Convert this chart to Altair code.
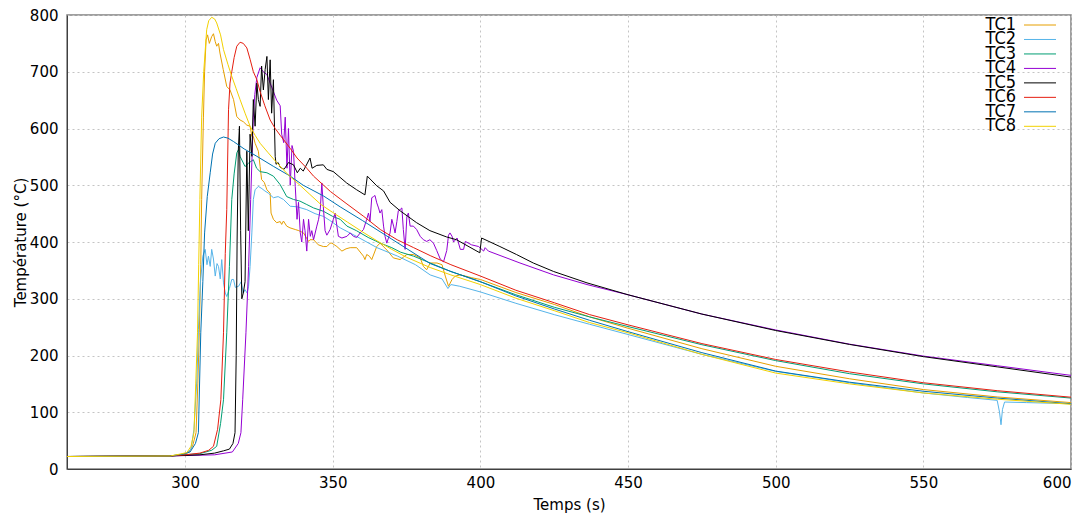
import altair as alt
import pandas as pd

# ---------------- data ----------------
names = ["TC1", "TC2", "TC3", "TC4", "TC5", "TC6", "TC7", "TC8"]
colors = ["#E69F00", "#56B4E9", "#009E73", "#9400D3", "#000000", "#E51E10", "#0072B2", "#F2D100"]

x_ticks = [300, 350, 400, 450, 500, 550, 600]
y_ticks = [0, 100, 200, 300, 400, 500, 600, 700, 800]

TC1 = [(260,22),(295,23),(298,25),(300,27),(301.2,29),(302.5,40),(303.7,64),(304.3,150),(304.8,240),(305.3,360),(305.6,475),(306.2,620),(306.6,700),(307.1,756),(307.6,765),(308.2,750),(309.0,762),(309.6,767),(310.2,753),(310.7,745),(311.3,750),(311.8,733),(312.9,704),(314.1,674),(315.2,668),(316.4,651),(317.5,621),(318.6,615),(319.7,612),(320.9,606),(322.0,604),(322.6,586),(323.1,586),(323.7,574),(324.8,560),(325.4,533),(325.9,510),(326.8,505),(327.7,492),(328.8,486),(329.1,451),(329.9,440),(331.0,434),(332.2,436),(332.7,431),(333.3,437),(334.4,428),(335.5,425),(337.3,422),(338.5,420),(340.1,416),(341.8,401),(342.3,404),(343.5,404),(345.1,395),(346.8,392),(348.0,392),(349.1,398),(349.7,398),(351.4,392),(353.1,384),(354.5,388),(355.9,390),(358.1,390),(360.4,375),(360.9,369),(361.5,378),(362.4,375),(363.2,369),(364.9,392),(366.0,398),(368.3,386),(370.5,372),(372.8,369),(375.1,378),(377.3,378),(379.6,372),(380.7,357),(381.8,351),(383.0,363),(385.3,363),(387.0,360),(388.1,340),(389.2,322),(390.4,334),(391.5,340),(393.2,342),(394.9,340),(397.1,337),(400,334),(412,311),(425,290),(437,268),(450,248),(475,212),(500,181),(525,159),(550,140),(575,127),(600,117)]

TC2 = [(260,22),(295,23),(300,25),(302,35),(303,70),(304,160),(304.5,246),(305.2,330),(306,375),(306.8,387),(307.4,360),(307.9,375),(308.5,357),(309,387),(309.6,370),(310.2,340),(310.8,362),(311.3,357),(311.9,335),(312.4,369),(313,328),(313.6,310),(314.1,304),(315,318),(315.8,334),(316.4,334),(317,320),(318.1,322),(319,330),(319.7,310),(320.3,316),(321,310),(321.5,322),(322,357),(322.6,416),(323.1,475),(323.7,492),(324.8,498),(326,494),(327,490),(328.2,486),(329.9,478),(331.5,480),(333.3,475),(335.6,463),(338,462),(341.2,457),(344,450),(346.9,445),(349,438),(352.5,425),(358,410),(365,390),(372,375),(378,360),(383,342),(387,335),(389,318),(390,325),(393,322),(400,312),(412,292),(425,272),(437,255),(450,237),(475,202),(500,172),(525,152),(550,134),(565,126),(575,121),(575.8,100),(576.3,78),(576.8,105),(577.5,118),(585,117),(600,115)]

TC3 = [(260,22),(295,23),(305,27),(309,33),(310.7,40),(312,80),(313,122),(314.1,240),(315,357),(315.8,475),(316.6,520),(317.5,557),(318.1,563),(318.6,551),(320.3,533),(321.5,539),(323.1,545),(324.2,530),(325.4,524),(327.7,522),(329.9,516),(332.2,501),(334.4,480),(336.7,475),(338.9,472),(341.2,466),(343.5,460),(346.9,454),(350,445),(352.5,440),(354.8,428),(358,420),(362,408),(366.1,398),(370,390),(373,382),(377.4,375),(383,363),(390,348),(400,330),(412,307),(425,285),(437,268),(450,251),(475,219),(500,191),(525,168),(550,150),(575,136),(600,125)]

TC4 = [(260,22),(295,23),(310,25),(316,30),(318,45),(318.9,64),(319.5,122),(320.6,240),(321.5,357),(322.2,475),(322.6,540),(323.1,620),(323.6,660),(324.3,690),(325.4,707),(326.5,700),(327.7,695),(328.8,680),(329.9,665),(331,650),(332.2,640),(332.7,590),(333.4,575),(333.9,620),(334.5,530),(335,600),(335.6,500),(336.2,570),(336.7,560),(337.3,498),(337.9,440),(338.4,470),(339,416),(339.5,400),(340.1,440),(340.6,420),(341.2,384),(341.8,440),(342.4,410),(342.9,420),(343.5,404),(344.6,428),(345.2,440),(345.8,460),(346.3,504),(346.8,462),(347.4,420),(348,412),(349.1,422),(350.2,440),(350.8,451),(351.4,428),(351.9,410),(353.1,407),(354.8,410),(355.9,416),(357,410),(358.1,408),(359.3,416),(360.4,422),(361.5,440),(362.1,451),(362.6,436),(363.2,478),(363.8,480),(364.3,482),(364.9,469),(365.5,460),(366,451),(366.6,457),(367.2,428),(367.7,410),(368.3,398),(369.4,416),(370,440),(370.6,428),(371.1,416),(371.7,436),(372.2,455),(372.8,457),(373.4,460),(373.9,422),(374.5,387),(375.1,445),(375.6,451),(376.2,428),(377.3,428),(378.4,422),(379.6,410),(380.7,404),(381.8,401),(382.9,404),(384.1,398),(385.2,385),(386.4,370),(387.5,365),(388.6,385),(389.2,412),(389.7,416),(390.4,410),(390.9,400),(392.1,407),(393.2,387),(394.3,387),(394.9,401),(397,395),(399.4,392),(401.1,384),(401.6,390),(402.7,384),(413.4,363),(424.8,342),(436.1,325),(450,307),(475,273),(500,245),(525,220),(550,199),(575,182),(600,165)]

TC5 = [(260,22),(295,23),(305,25),(310,28),(313,32),(315,35),(316.2,45),(316.9,64),(317.3,200),(317.6,400),(318,560),(318.4,604),(318.8,420),(319.2,300),(319.7,310),(320.3,330),(320.9,560),(321.4,420),(322,590),(322.6,551),(323.1,651),(323.7,604),(324.3,680),(324.8,651),(325.4,639),(325.9,710),(326.5,668),(327.1,704),(327.7,727),(328.2,651),(328.8,721),(329.3,627),(329.9,686),(330.5,551),(330.8,537),(331.5,540),(332.2,532),(333.5,528),(335,540),(336.7,536),(338,522),(339,530),(340,525),(342.3,548),(343,530),(344.6,535),(346.8,536),(348,528),(350.2,524),(354.7,504),(358.1,492),(360.9,483),(361.7,516),(364.9,499),(367.2,490),(369.4,470),(372.8,455),(378.4,434),(382.9,420),(388.5,409),(391.9,404),(399.8,381),(400.4,407),(406.6,392),(412.2,378),(417.9,363),(424.8,348),(436.1,328),(450,307),(475,273),(500,244),(525,219.5),(550,198),(575,180),(600,162)]

TC6 = [(260,22),(295,23),(300,25),(305,28),(308,33),(309.6,40),(311,70),(312.1,122),(313,240),(313.6,380),(314.1,457),(314.7,633),(315.2,680),(315.8,700),(316.6,725),(317.5,745),(318.6,752),(319.7,750),(320.9,742),(322,722),(323.1,700),(324.3,686),(325.4,665),(327,640),(328.8,615),(330.5,600),(332.2,588),(335.6,565),(337.9,548),(341.2,530),(343.5,516),(346.9,500),(349.2,489),(352.5,476),(354.8,467),(360.5,445),(366.1,422),(371.8,404),(377.4,390),(383,376),(390,360),(400,340),(412,315),(425,293),(437,272),(450,254),(475,221),(500,193),(525,171),(550,152),(575,138),(600,126.5)]

TC7 = [(260,22),(295,23),(299,26),(301.7,30),(303.5,45),(304.5,64),(305.3,240),(306,330),(306.6,416),(307.5,480),(308.5,522),(309.3,555),(310.2,574),(311.5,582),(313,585),(314.5,583),(316.4,577),(320,564),(324.3,551),(330,533),(335.6,516),(340,500),(346.9,481),(352.5,462),(360,438),(370,405),(383,362),(390,348),(400,330),(412,305),(425,282),(437,262),(450,242),(475,205),(500,172.5),(525,153),(550,137),(575,125),(600,115)]

TC8 = [(260,22),(295,23),(298,26),(300.6,29),(302,40),(303,64),(303.6,150),(304.2,240),(304.6,360),(305,475),(305.6,620),(306.3,700),(307.3,774),(308,790),(309,796),(310,793),(310.7,786),(312,765),(313,739),(314.5,713),(315.8,692),(317.3,670),(318.6,651),(320.3,627),(322,604),(323.7,588),(325.4,574),(328,558),(331,540),(335,518),(338.9,500),(342,485),(346,466),(350,452),(355,435),(360,418),(365,402),(370,387),(375,373),(383,355),(390,342),(400,325),(412,301),(425,279),(437,258),(450,240),(475,202),(500,169),(525,150),(550,134),(575,123),(600,114)]

series = [TC1, TC2, TC3, TC4, TC5, TC6, TC7, TC8]

rows = []
for name, pts in zip(names, series):
    for i, (t, v) in enumerate(pts):
        rows.append({"series": name, "i": i, "t": t, "T": v})
df = pd.DataFrame(rows)
legend_df = pd.DataFrame({"series": names})

FONT = "DejaVu Sans"
color_scale = alt.Scale(domain=names, range=colors)

lines = alt.Chart(df).mark_line(strokeWidth=1, clip=True).encode(
    x=alt.X("t:Q",
            scale=alt.Scale(domain=[260, 600], nice=False, zero=False),
            axis=alt.Axis(values=x_ticks, title="Temps (s)", ticks=False,
                          labelPadding=6, titleY=35, titleBaseline="middle")),
    y=alt.Y("T:Q",
            scale=alt.Scale(domain=[0, 800], nice=False),
            axis=alt.Axis(values=y_ticks, title="Température (°C)", ticks=False,
                          labelPadding=9, titleX=-47, titleY=227, titleBaseline="middle")),
    color=alt.Color("series:N", scale=color_scale, legend=None),
    order=alt.Order("i:Q"),
)

leg_y = alt.Y("series:N", scale=alt.Scale(type="point", domain=names, range=[10, 111.3], padding=0), axis=None)

leg_text = alt.Chart(legend_df).mark_text(
    align="right", baseline="middle", fontSize=18, font="DejaVu Sans Condensed", color="black"
).encode(x=alt.value(949), y=leg_y, text="series:N")

leg_line = alt.Chart(legend_df).mark_rule(strokeWidth=1).encode(
    x=alt.value(957), x2=alt.value(989), y=leg_y,
    color=alt.Color("series:N", scale=color_scale, legend=None),
)

chart = alt.layer(lines, leg_text, leg_line).resolve_scale(y="independent").properties(
    width=1004, height=454,
    padding={"left": 59, "top": 7, "right": 10, "bottom": 44},
    autosize=alt.AutoSizeParams(type="none"),
).configure_axis(
    labelFont=FONT, titleFont=FONT, labelFontSize=15, titleFontSize=15,
    labelColor="black", titleColor="black", titleFontWeight="normal",
    domainColor="#404040", domainWidth=1,
    gridColor="#c4c4c4", gridDash=[2, 3], gridWidth=1,
).configure_view(stroke="#808080", strokeWidth=1.5)

chart.save("out.html", embed_options={"renderer": "svg", "actions": False})
